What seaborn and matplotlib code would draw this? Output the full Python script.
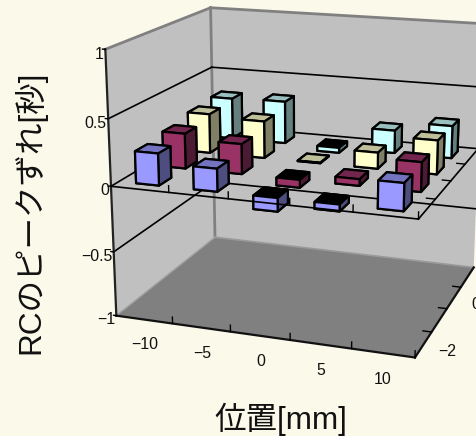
import numpy as np
import matplotlib
matplotlib.use("Agg")
import matplotlib.pyplot as plt
import seaborn as sns
from mpl_toolkits.mplot3d.art3d import Poly3DCollection

positions = [-10, -5, 0, 5, 10]
rows = [-2, -1, 0, 1]
row_blue = [0.24, 0.17, -0.10, -0.05, 0.20]
row_purple = [0.27, 0.23, -0.06, 0.05, 0.22]
row_yellow = [0.31, 0.29, 0.00, 0.125, 0.26]
row_cyan = [0.33, 0.34, -0.04, 0.18, 0.255]
row_colors = ["#9999FF", "#993366", "#FFFFCC", "#CCFFFF"]
x_tick_labels = ["−10", "−5", "0", "5", "10"]
y_tick_labels = {-2: "−2", 0: "0"}
z_ticks = [-1, -0.5, 0, 0.5, 1]
z_tick_labels = ["−1", "−0.5", "0", "0.5", "1"]
BG = "#FBF9EA"

sns.set_theme(style="white", rc={"figure.facecolor": BG})
plt.rcParams["font.family"] = ["Liberation Sans", "Noto Sans CJK JP"]

W, H = 477, 436
fig = plt.figure(figsize=(W/100, H/100), dpi=100)
ax = fig.add_axes([0, 0, 1, 1], projection="3d", computed_zorder=False)
ax.patch.set_alpha(0)
x0, x1, y0, y1, z0, z1 = -12.5, 12.5, -2.5, 1.5, -1, 1
ax.set_xlim(x0, x1); ax.set_ylim(y0, y1); ax.set_zlim(z0, z1)
ax.set_xticks([]); ax.set_yticks([]); ax.set_zticks([])
ax.set_axis_off()
for axis in (ax.xaxis, ax.yaxis, ax.zaxis):
    axis.set_visible(False)
    axis.label.set_visible(False)
    axis.offsetText.set_visible(False)
for t in (ax.title, ax._left_title, ax._right_title):
    t.set_visible(False)

elev, azim, focal, by, bz = 16.081, -70.773, 0.5449, 0.8246, 0.8786
s, tx, ty = 2475.7, 303.42, 166.58
ax.view_init(elev, azim)
ax.set_proj_type("persp", focal_length=focal)
ax.set_box_aspect((1, by, bz))
side = 0.185*s
ax.set_position([(tx-0.095*s)/W, 1-(ty+0.095*s)/H, side/W, side/H])

def wall(pts, color, z):
    ax.add_collection3d(Poly3DCollection([pts], facecolors=color, edgecolors="none", zorder=z))
wall([(x0,y0,z0),(x0,y1,z0),(x0,y1,z1),(x0,y0,z1)], "#C0C0C0", 1)
wall([(x0,y1,z0),(x1,y1,z0),(x1,y1,z1),(x0,y1,z1)], "#C0C0C0", 1)
wall([(x0,y0,z0),(x1,y0,z0),(x1,y1,z0),(x0,y1,z0)], "#808080", 1)

def line(a, b, color="black", lw=1.2, z=2):
    ax.plot([a[0],b[0]],[a[1],b[1]],[a[2],b[2]],color=color,lw=lw,zorder=z,solid_capstyle="projecting")

line((x0,y0,z1),(x0,y1,z1),"#808080",2)
line((x0,y1,z1),(x1,y1,z1),"#808080",2)
line((x0,y1,z0),(x0,y1,z1),"#808080",2)
line((x0,y1,z0),(x1,y1,z0),"#9a9a9a",1.2)
line((x0,y0,z0),(x0,y1,z0),"#a0a0a0",1.0)
for zt in [-0.5, 0, 0.5]:
    line((x0,y0,zt),(x0,y1,zt))
    line((x0,y1,zt),(x1,y1,zt))
line((x1,y0,0),(x1,y1,0))
line((x0,y0,z1),(x0,y0,z0),"#222222",1.6)
line((x0,y0,z0),(x1,y0,z0),"#111111",1.6)
line((x1,y0,z0),(x1,y1,z0),"#111111",1.6)

heights = [row_blue, row_purple, row_yellow, row_cyan]
W_BAR, D_BAR = 2.0, 0.45
order = 10
for ri in range(len(rows)-1, -1, -1):
    base = np.array(matplotlib.colors.to_rgb(row_colors[ri]))
    for ci in range(len(positions)):
        h = heights[ri][ci]
        top = np.zeros(3) if h < 0 else base*0.75
        cols = [base*0.5, top, base, base*0.5, base*0.5, base*0.5]
        ax.bar3d(positions[ci]-W_BAR/2, rows[ri]-D_BAR/2, min(h, 0), W_BAR, D_BAR, max(abs(h), 0.004),
                 color=cols, edgecolor="black", linewidth=1.6, shade=False, zorder=order)
        order += 1

line((x0,y0,0),(x1,y0,0),z=100)
for lvl in [z0, 0]:
    for xt in [-7.5,-2.5,2.5,7.5,12.5]:
        line((xt,y0,lvl),(xt,y0,lvl+0.05),z=100,lw=1)
    for yt in [-1.5,-0.5,0.5]:
        line((x1,yt,lvl),(x1-0.7,yt,lvl),z=100,lw=1)
for zt in z_ticks:
    line((x0,y0,zt),(x0-0.25,y0,zt),z=100,lw=1)

for pos, lab in zip(positions, x_tick_labels):
    ax.text(pos, y0, z0-0.2, lab, ha="center", va="center", fontsize=11.4, color="#111111", zorder=120)
for r, lab in y_tick_labels.items():
    ax.text(x1+1.9, r, z0-0.03, lab, ha="center", va="center", fontsize=11.4, color="#111111", zorder=120)
for zt, lab in zip(z_ticks, z_tick_labels):
    ax.text(x0-0.15, y0, zt-0.035, lab, ha="right", va="center", fontsize=11.4, color="#111111", zorder=120)

fig.text(281/W, 1-419/H, "位置[mm]", fontsize=22.7, ha="center", va="center", color="#111111")
fig.text(30/W, 1-212/H, "RCのピークずれ[秒]", fontsize=22.7, rotation=90, ha="center", va="center", color="#111111")
fig.savefig("out.png", dpi=100, facecolor=BG)
